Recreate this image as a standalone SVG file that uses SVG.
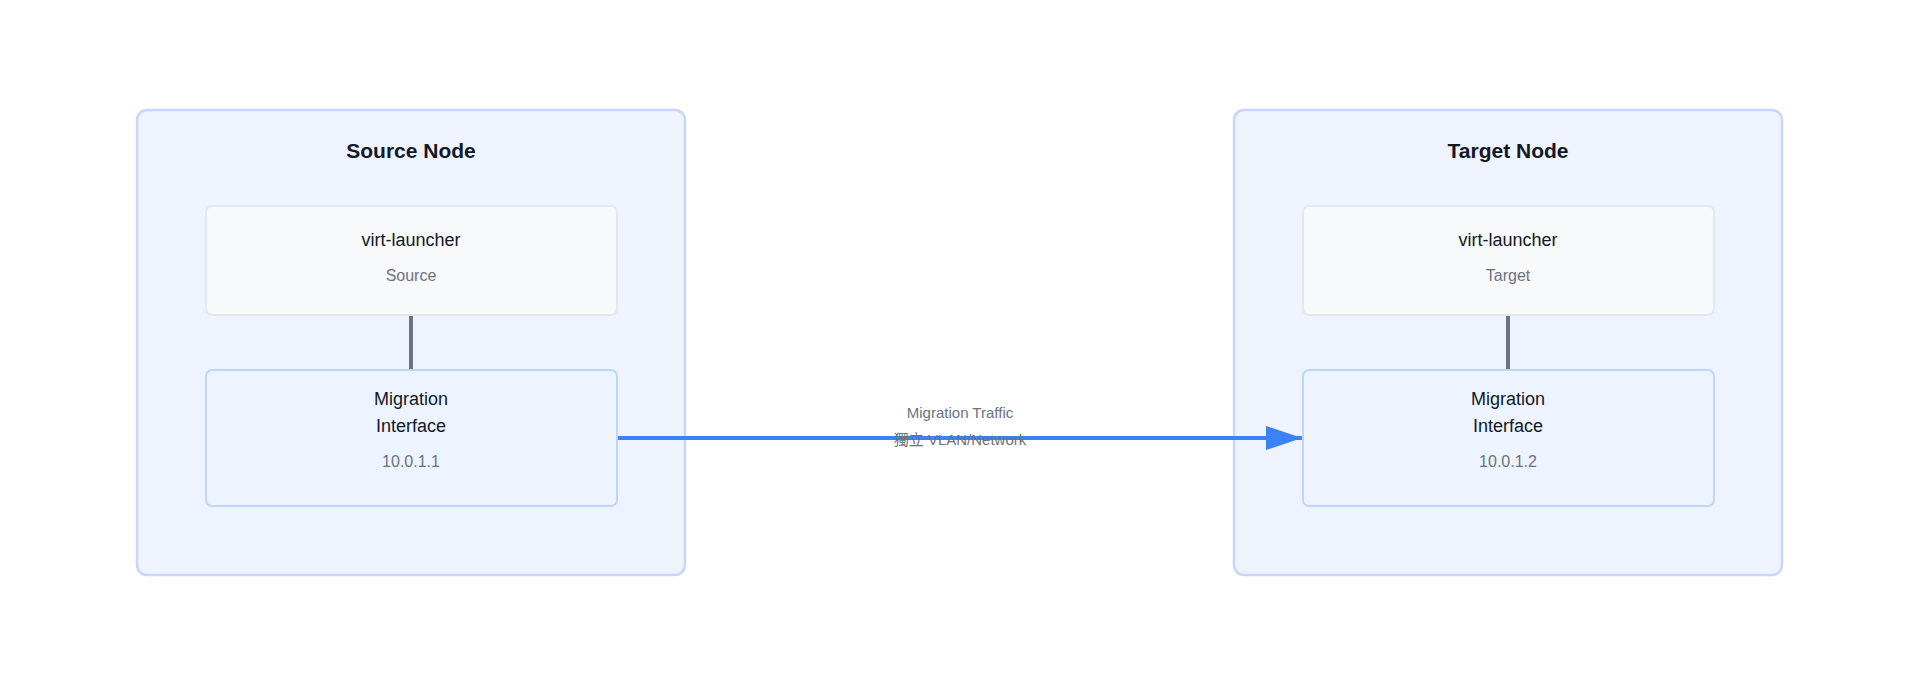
<svg xmlns="http://www.w3.org/2000/svg" width="1920" height="686" viewBox="0 0 1920 686">
<style>
text{font-family:"Liberation Sans","Noto Sans CJK SC",sans-serif;text-anchor:middle}
.outer{fill:#eef3fe;stroke:#c7d6fb;stroke-width:2.5}
.pod{fill:#f8f9fb;stroke:#e3e7ee;stroke-width:2}
.iface{fill:#eef4ff;stroke:#bcd7fb;stroke-width:2}
.t1{font-size:21px;font-weight:600;fill:#111827}
.t2{font-size:18px;font-weight:500;fill:#111827}
.t3{font-size:16px;fill:#6b7280}
.lbl{font-size:15px;fill:#6b7280}
</style>
<defs><marker id="ah" markerWidth="12" markerHeight="10" refX="12" refY="5" orient="auto" markerUnits="userSpaceOnUse"><path d="M0,0 L12,5 L0,10 Z" fill="#3b82f6"/></marker>
<marker id="ah2" viewBox="0 0 36 24" markerWidth="36" markerHeight="24" refX="36" refY="12" orient="auto" markerUnits="userSpaceOnUse"><path d="M0,0 L36,12 L0,24 Z" fill="#3b82f6"/></marker></defs>
<rect width="1920" height="686" fill="#fff"/>
<g id="source-node"><rect class="outer" x="137" y="110" width="548" height="465" rx="10"/><text class="t1" x="411" y="158">Source Node</text></g>
<g id="source-launcher"><rect class="pod" x="206" y="206" width="411" height="109" rx="6"/><text class="t2" x="411" y="246">virt-launcher</text><text class="t3" x="411" y="281">Source</text></g>
<g id="source-iface"><rect class="iface" x="206" y="370" width="411" height="136" rx="6"/><text class="t2" x="411" y="405">Migration</text><text class="t2" x="411" y="432">Interface</text><text class="t3" x="411" y="467">10.0.1.1</text></g>
<g id="target-node"><rect class="outer" x="1234" y="110" width="548" height="465" rx="10"/><text class="t1" x="1508" y="158">Target Node</text></g>
<g id="target-launcher"><rect class="pod" x="1303" y="206" width="411" height="109" rx="6"/><text class="t2" x="1508" y="246">virt-launcher</text><text class="t3" x="1508" y="281">Target</text></g>
<g id="target-iface"><rect class="iface" x="1303" y="370" width="411" height="136" rx="6"/><text class="t2" x="1508" y="405">Migration</text><text class="t2" x="1508" y="432">Interface</text><text class="t3" x="1508" y="467">10.0.1.2</text></g>
<g id="connectors">
<line x1="411" y1="316" x2="411" y2="369" stroke="#6b7280" stroke-width="4"/>
<line x1="1508" y1="316" x2="1508" y2="369" stroke="#6b7280" stroke-width="4"/>
<line x1="618" y1="438" x2="1302" y2="438" stroke="#3b82f6" stroke-width="4" marker-end="url(#ah2)"/>
<text class="lbl" x="960" y="418">Migration Traffic</text>
<text class="lbl" x="960" y="445">獨立 VLAN/Network</text>
</g>
</svg>
